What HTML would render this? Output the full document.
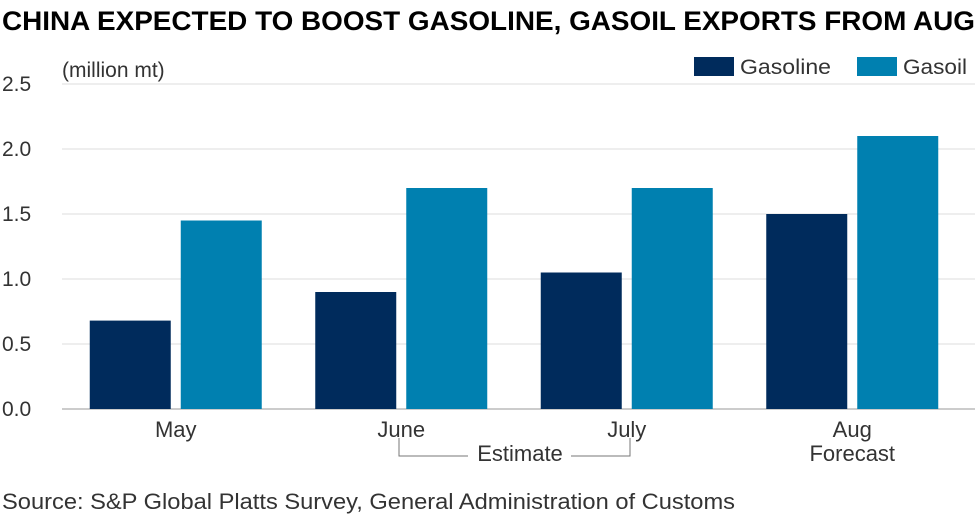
<!DOCTYPE html>
<html><head><meta charset="utf-8"><style>
html,body{margin:0;padding:0;background:#fff;}
svg{display:block;font-family:"Liberation Sans",sans-serif;}
</style></head><body>
<svg id="chart" width="980" height="517" viewBox="0 0 980 517">
<text x="2" y="30" font-family="'Liberation Sans Narrow','Liberation Sans',sans-serif" font-weight="bold" font-size="27" fill="#000" textLength="973" lengthAdjust="spacingAndGlyphs">CHINA EXPECTED TO BOOST GASOLINE, GASOIL EXPORTS FROM AUG</text>
<text x="62" y="77" font-size="21" fill="#333">(million mt)</text>
<g>
<rect x="694" y="57" width="40" height="19" fill="#002b5c"/>
<text x="740" y="74" font-size="21" fill="#333" textLength="91" lengthAdjust="spacingAndGlyphs">Gasoline</text>
<rect x="857" y="57" width="40" height="19" fill="#0080b0"/>
<text x="903" y="74" font-size="21" fill="#333" textLength="64" lengthAdjust="spacingAndGlyphs">Gasoil</text>
</g>
<g id="grid"></g><g id="bars"></g><g id="labels"></g>
<g stroke="#777" stroke-width="1" fill="none">
<path d="M399 438 V456 H468 M571 456 H630 V438"/>
</g>
<text x="520" y="461" font-size="22" fill="#333" text-anchor="middle">Estimate</text>
<text x="2" y="509" font-size="22" fill="#333" textLength="733" lengthAdjust="spacingAndGlyphs">Source: S&amp;P Global Platts Survey, General Administration of Customs</text>
</svg>
<script>
const categories = ["May","June","July","Aug"];
const gasoline = [0.68, 0.9, 1.05, 1.5];
const gasoil = [1.45, 1.7, 1.7, 2.1];
const yTicks = ["0.0","0.5","1.0","1.5","2.0","2.5"];
const NS="http://www.w3.org/2000/svg";
const y0=409, yScale=130, left=63, right=975, band=225.5;
function y(v){return y0-v*yScale;}
function xc(i){return left+band*(i+0.5);}
function mk(tag,attrs,parent){const e=document.createElementNS(NS,tag);for(const k in attrs)e.setAttribute(k,attrs[k]);parent.appendChild(e);return e;}
const grid=document.getElementById('grid'),bars=document.getElementById('bars'),labels=document.getElementById('labels');
yTicks.forEach((t,i)=>{
 const v=parseFloat(t);
 const l=mk('line',{x1:62,x2:right,y1:y(v),y2:y(v),stroke:i===0?'#999':'#ddd','stroke-width':1},grid);
 
 
 const tx=mk('text',{x:2,y:y(v)+7,'font-size':21,fill:'#333'},grid);
 tx.textContent=t;
 
 
});
categories.forEach((c,i)=>{
 const cx=xc(i);
 const b1=mk('rect',{x:cx-86,y:y(gasoline[i]),width:81,height:gasoline[i]*yScale,fill:'#002b5c'},bars);
 
 
 const b2=mk('rect',{x:cx+5,y:y(gasoil[i]),width:81,height:gasoil[i]*yScale,fill:'#0080b0'},bars);
 
 
 const t=mk('text',{x:cx,y:437,'font-size':22,fill:'#333','text-anchor':'middle'},labels);
 t.textContent=c;
 
 
});
const f=mk('text',{x:xc(3),y:461,'font-size':22,fill:'#333','text-anchor':'middle'},labels);
f.textContent='Forecast';


</script>
</body></html>
